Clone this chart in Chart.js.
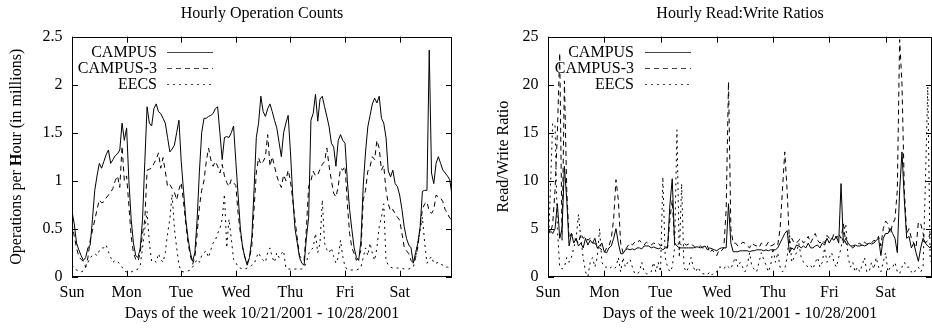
<!DOCTYPE html>
<html>
<head>
<meta charset="utf-8">
<script src="https://cdn.jsdelivr.net/npm/chart.js@4.4.1/dist/chart.umd.min.js"></script>
<style>
html, body { margin: 0; padding: 0; background: #fff; }
#wrap { position: relative; width: 932px; height: 330px; overflow: hidden; }
canvas { position: absolute; top: 0; }
#opsChart { left: 0; }
#rwChart { left: 466px; }
</style>
</head>
<body>
<div id="wrap">
  <canvas id="opsChart" width="466" height="330"></canvas>
  <canvas id="rwChart" width="466" height="330"></canvas>
</div>
<script>
// one value per hour, Sun 00:00 .. Sat 23:00 (one row per day)
const days = ['Sun', 'Mon', 'Tue', 'Wed', 'Thu', 'Fri', 'Sat'];
const seriesNames = ['CAMPUS', 'CAMPUS-3', 'EECS'];

// Hourly Operation Counts (millions)
const opsCampus = [
  0.68,0.55,0.35,0.28,0.22,0.17,0.2,0.3,0.33,0.6,0.9,1.05,1.18,1.13,1.2,1.27,1.32,1.18,1.22,1.26,1.28,1.32,1.6,1.42,
  1.55,1.0,0.6,0.35,0.22,0.2,0.3,0.6,1.2,1.77,1.6,1.57,1.75,1.8,1.72,1.7,1.65,1.6,1.45,1.3,1.33,1.37,1.5,1.63,
  1.2,0.9,0.6,0.4,0.25,0.16,0.25,0.6,1.1,1.5,1.65,1.65,1.67,1.68,1.7,1.75,1.77,1.5,1.22,1.45,1.46,1.45,1.5,1.57,
  1.2,0.85,0.5,0.3,0.2,0.12,0.2,0.4,0.9,1.45,1.6,1.88,1.72,1.67,1.75,1.8,1.72,1.63,1.55,1.4,1.25,1.5,1.6,1.68,
  1.3,0.85,0.5,0.35,0.2,0.14,0.12,0.4,0.62,1.63,1.7,1.9,1.62,1.85,1.88,1.77,1.67,1.56,1.39,1.35,1.15,1.42,1.48,1.42,
  1.39,1.0,0.7,0.49,0.3,0.2,0.17,0.38,0.95,1.3,1.56,1.68,1.8,1.86,1.81,1.88,1.65,1.6,1.45,1.1,1.04,1.11,0.97,0.94,
  0.85,0.7,0.52,0.4,0.33,0.3,0.14,0.25,0.35,0.52,0.89,0.9,0.9,2.36,1.08,0.97,1.18,1.25,1.18,1.11,1.08,1.05,1.01,0.85
];
const opsCampus3 = [
  0.56,0.42,0.3,0.21,0.18,0.16,0.1,0.2,0.38,0.48,0.59,0.7,0.8,0.77,0.78,0.82,0.85,0.88,0.92,1.0,1.05,0.93,1.36,1.0,
  1.05,0.74,0.42,0.25,0.18,0.16,0.25,0.45,0.59,1.11,1.12,1.13,1.18,1.22,1.29,1.13,1.24,1.1,0.94,0.96,0.92,0.88,0.8,0.91,
  0.98,0.78,0.55,0.35,0.22,0.13,0.2,0.45,0.73,0.9,1.0,1.2,1.34,1.22,1.15,1.2,1.15,1.08,1.17,1.05,0.98,0.94,1.01,0.98,
  0.95,0.66,0.45,0.31,0.2,0.14,0.2,0.31,0.7,1.08,1.24,1.17,1.2,1.25,1.48,1.15,1.25,1.15,1.05,0.98,0.93,1.06,1.0,1.11,
  1.0,0.8,0.59,0.4,0.22,0.18,0.17,0.5,0.94,1.0,1.1,1.05,1.06,1.12,1.17,1.2,1.34,1.15,1.0,0.87,0.83,0.94,1.13,1.11,
  1.15,0.76,0.45,0.3,0.24,0.17,0.2,0.28,0.8,0.9,1.1,1.15,1.25,1.22,1.42,1.34,1.11,1.16,0.9,0.76,0.68,0.7,0.66,0.62,
  0.59,0.45,0.31,0.27,0.24,0.17,0.14,0.2,0.31,0.52,0.7,0.76,0.78,0.68,0.66,0.7,0.85,0.83,0.82,0.78,0.7,0.66,0.61,0.59
];
const opsEecs = [
  0.12,0.08,0.07,0.06,0.05,0.06,0.1,0.15,0.2,0.22,0.24,0.22,0.27,0.3,0.3,0.33,0.26,0.2,0.15,0.17,0.16,0.13,0.1,0.06,
  0.05,0.05,0.05,0.06,0.07,0.08,0.12,0.3,0.5,0.68,0.35,0.16,0.17,0.15,0.24,0.18,0.15,0.25,0.45,0.6,0.86,0.5,0.3,0.12,
  0.06,0.05,0.05,0.06,0.07,0.1,0.14,0.18,0.15,0.22,0.25,0.27,0.2,0.28,0.35,0.38,0.45,0.5,0.6,0.86,0.3,0.6,0.4,0.18,
  0.15,0.1,0.09,0.08,0.08,0.09,0.1,0.12,0.13,0.2,0.25,0.2,0.17,0.15,0.25,0.3,0.2,0.15,0.25,0.2,0.24,0.27,0.09,0.08,
  0.08,0.08,0.08,0.08,0.08,0.08,0.1,0.15,0.24,0.28,0.3,0.45,0.25,0.35,0.8,0.35,0.28,0.25,0.3,0.21,0.14,0.2,0.38,0.21,
  0.1,0.08,0.07,0.07,0.07,0.07,0.08,0.1,0.2,0.3,0.22,0.35,0.24,0.17,0.3,0.52,0.62,0.76,0.17,0.12,0.1,0.09,0.09,0.09,
  0.09,0.09,0.08,0.08,0.08,0.09,0.1,0.2,0.35,0.49,0.62,0.35,0.14,0.18,0.21,0.14,0.14,0.15,0.13,0.12,0.1,0.1,0.09,0.09
];

// Hourly Read:Write Ratios
const rwCampus = [
  5,4.8,4.5,5,7.6,4,5,11.5,8,3.2,4.5,3.5,4,3.2,3.5,3,4,3.3,3.8,3.5,4,3,3.2,3.5,
  2.6,2.5,3,3.2,4,5,3.5,2.4,2.4,2.8,2.9,2.8,2.9,2.8,3,3,2.9,3.2,3.2,3.2,3,3.1,3,2.9,
  3,2.8,3,3,7.5,10.2,3.5,3.2,3,3,3,3,3,3,3,3.1,3.1,3,3.1,3.2,2.8,3,2.9,2.8,
  2.7,2.9,3,3,3,7.6,3.5,2.6,2.6,2.6,2.7,2.7,2.7,2.7,2.6,2.7,2.7,2.8,2.8,2.8,2.7,2.8,2.7,2.8,
  2.8,2.8,3,3.5,4,4.5,4.8,2.5,3,2.8,3.3,3.2,3,3.2,3,3.5,3,3,3.2,3.3,3,3.5,3.3,4,
  3.5,4,3.8,4.2,3.5,9.7,3.5,4,3.5,3.2,3.2,3.3,3.2,3.2,3.3,3.2,3.3,3.5,3.4,3.5,3.8,4,2.2,4,
  4.5,4.5,5,4.5,4,2.5,9,13,8,4,4.2,3,3.5,2.5,1.6,3,4,3.5,3.2,3,3.5,3.3,3.5,3.6
];
const rwCampus3 = [
  5,4.5,5.5,9,15,23.3,3.8,20.4,9,4,4.5,4,3.8,3.5,4.5,4,4.2,3.8,4,3.5,3.5,3,3,2.8,
  2.5,3,3.2,4,6,10.1,8,3.5,2.5,2.8,3.2,3.5,3.3,3.6,3.5,3.8,3.5,3.3,3.6,3.4,3.3,3.5,3.4,3.5,
  3.2,3.3,3.2,3,6,8,3.5,3.2,3.5,3.3,3.5,3.3,3.4,3.5,3.2,3,3.1,3.2,3,3,3.2,2.5,2.8,2.5,
  2.2,2.8,2.7,3,7,20.3,5,3.5,3.5,3.2,3.3,3.6,3.5,3.2,3,3.5,3.3,3.2,3,3.5,3.3,3.2,3.6,3.2,
  3.3,3.5,3.3,5,9,13,9,3.5,4,3.5,3.5,3.8,4,3.5,3.8,4.2,3.5,4,4.5,3.8,3.5,3.8,3.5,4.3,
  4,3.8,4.5,4,4.5,4,5.5,3.5,3.2,3.2,3,3.2,3.4,3.5,3.2,3.6,3.4,3.5,3.5,3.8,3.7,4.2,3.2,5,
  5.8,5.5,4.5,5.5,6,9,24.7,20,9,4.5,5,4,3.5,3,5.7,5.5,4.5,3.5,3.8,4.5,4,4.2,4,4.5
];
const rwEecs = [
  2,9,16,15.8,5,1,0.8,1,2,1.5,2,3,4,6.5,4,2,0.5,0,1.5,2,1,2,5,1.5,
  1,1,0.8,1,0.8,1,2,0.5,2,1,1.5,1.8,1,0.3,0.3,0.5,1.5,0.5,0.3,0.3,0.5,1.5,0.5,1.5,
  0.5,10.4,2,1,0.5,1,3,15.3,2,9.7,1,0.5,1,2,1,0.5,1,0.5,0.3,0.3,0.2,0.5,0.2,0.5,
  0.5,1,1,0.8,1.2,1,0.8,1.5,2,1,1.5,1,0.5,1.2,2.5,1,0.8,0.5,1.5,2.5,1.8,1.2,0.5,1.2,
  3,1.5,2.5,1,0.5,0.8,2,4.5,1.5,2,2.5,3.5,2,1.5,1.2,1,1.2,0.8,1.5,2,1,1.5,3,1.5,
  2,2.5,1.5,1,2,3,4.5,5.5,2,1,1.5,0.5,1,0.5,1.2,2,0.5,0.5,1.5,0.8,2,1,0.5,1.5,
  2.5,0.5,1,1,1.5,0.5,0.3,1,1.5,1,1,0.5,0.3,0.8,1,0.5,1,10,19.8,2,1,1.5,1,1
];

const FONT = '"Liberation Serif", "DejaVu Serif", serif';
const FSIZE = 16;
const TICK = 6;
const dashes = [[], [5, 4], [2, 4]];

Chart.defaults.font.family = FONT;
Chart.defaults.font.size = FSIZE;
Chart.defaults.color = '#000';

const pts = vals => vals.map((v, h) => ({ x: h, y: v }));

function makeSets(list) {
  return list.map((vals, i) => ({
    label: seriesNames[i],
    data: pts(vals),
    borderColor: '#000',
    borderWidth: 1,
    borderDash: dashes[i],
    pointRadius: 0,
    tension: 0,
    fill: false
  }));
}

// gnuplot-like frame with inward ticks on all four sides
const gnuFrame = {
  id: 'gnuFrame',
  afterDatasetsDraw(chart) {
    const { ctx, chartArea: a, scales: { x, y } } = chart;
    ctx.save();
    ctx.strokeStyle = '#000';
    ctx.lineWidth = 1;
    ctx.setLineDash([]);
    ctx.beginPath();
    x.ticks.forEach(t => {
      const px = Math.round(x.getPixelForValue(t.value)) + 0.5;
      ctx.moveTo(px, a.bottom); ctx.lineTo(px, a.bottom - TICK);
      ctx.moveTo(px, a.top); ctx.lineTo(px, a.top + TICK);
    });
    y.ticks.forEach(t => {
      const py = Math.round(y.getPixelForValue(t.value)) + 0.5;
      ctx.moveTo(a.left, py); ctx.lineTo(a.left + TICK, py);
      ctx.moveTo(a.right, py); ctx.lineTo(a.right - TICK, py);
    });
    ctx.stroke();
    const l = Math.round(a.left) + 0.5, t = Math.round(a.top) + 0.5;
    const r = Math.round(a.right) - 0.5, b = Math.round(a.bottom) - 0.5;
    ctx.strokeRect(l, t, r - l, b - t);
    ctx.restore();
  }
};

// key inside the plot, label right-aligned then a line sample
const keyBox = {
  id: 'keyBox',
  beforeDatasetsDraw(chart, args, opts) {
    const { ctx, chartArea: a } = chart;
    ctx.save();
    ctx.font = FSIZE + 'px ' + FONT;
    ctx.textAlign = 'right';
    ctx.textBaseline = 'middle';
    chart.data.datasets.forEach((ds, i) => {
      const yy = Math.round(a.top + 15.5 + i * 16) + 0.5;
      ctx.fillStyle = '#000';
      ctx.fillText(ds.label, a.left + opts.textRight, yy);
      ctx.strokeStyle = '#444';
      ctx.lineWidth = 1;
      ctx.setLineDash(ds.borderDash || []);
      ctx.beginPath();
      ctx.moveTo(a.left + opts.lineFrom, yy);
      ctx.lineTo(a.left + opts.lineTo, yy);
      ctx.stroke();
    });
    ctx.restore();
  }
};

// y title with the bold H
const opsYTitle = {
  id: 'opsYTitle',
  afterDraw(chart) {
    const { ctx, chartArea: a } = chart;
    const parts = [['Operations per ', ''], ['H', 'bold '], ['our (in millions)', '']];
    ctx.save();
    ctx.translate(17, (a.top + a.bottom) / 2);
    ctx.rotate(-Math.PI / 2);
    ctx.textAlign = 'left';
    ctx.textBaseline = 'middle';
    ctx.fillStyle = '#000';
    let total = 0;
    parts.forEach(p => { ctx.font = p[1] + FSIZE + 'px ' + FONT; total += ctx.measureText(p[0]).width; });
    let cx = -total / 2;
    parts.forEach(p => {
      ctx.font = p[1] + FSIZE + 'px ' + FONT;
      ctx.fillText(p[0], cx, 0);
      cx += ctx.measureText(p[0]).width;
    });
    ctx.restore();
  }
};

function baseOptions(cfg) {
  return {
    responsive: false,
    animation: false,
    devicePixelRatio: 1,
    layout: { padding: { left: 0, right: cfg.padRight, top: 0, bottom: 0 } },
    plugins: {
      legend: { display: false },
      tooltip: { enabled: false },
      title: {
        display: true,
        text: cfg.title,
        fullSize: false,
        font: { size: FSIZE, weight: 'normal' },
        padding: { top: 3.7, bottom: 13.8 }
      },
      keyBox: cfg.key
    },
    scales: {
      x: {
        type: 'linear',
        min: 0,
        max: cfg.xMax,
        grid: { display: false, drawTicks: false },
        border: { display: false },
        ticks: {
          stepSize: 24,
          includeBounds: false,
          padding: 6,
          maxRotation: 0,
          autoSkip: false,
          callback: v => days[v / 24] || ''
        },
        title: {
          display: true,
          text: 'Days of the week 10/21/2001 - 10/28/2001',
          padding: { top: 0, bottom: 6.9 }
        },
        afterFit: s => { s.height = 53.3; }
      },
      y: {
        min: 0,
        max: cfg.yMax,
        grid: { display: false, drawTicks: false },
        border: { display: false },
        ticks: { stepSize: cfg.yStep, padding: 9.5, callback: v => String(v) },
        title: cfg.yTitle,
        afterFit: s => { s.width = cfg.yWidth; }
      }
    }
  };
}

new Chart(document.getElementById('opsChart'), {
  type: 'line',
  data: { datasets: makeSets([opsCampus, opsCampus3, opsEecs]) },
  options: baseOptions({
    title: 'Hourly Operation Counts',
    padRight: 14,
    xMax: 167,
    yMax: 2.5,
    yStep: 0.5,
    yWidth: 72,
    yTitle: { display: false },
    key: { textRight: 85, lineFrom: 95, lineTo: 141 }
  }),
  plugins: [keyBox, gnuFrame, opsYTitle]
});

new Chart(document.getElementById('rwChart'), {
  type: 'line',
  data: { datasets: makeSets([rwCampus, rwCampus3, rwEecs]) },
  options: baseOptions({
    title: 'Hourly Read:Write Ratios',
    padRight: 0,
    xMax: 163.8,
    yMax: 25,
    yStep: 5,
    yWidth: 82,
    yTitle: { display: true, text: 'Read/Write Ratio', padding: { top: 27.7, bottom: 0 } },
    key: { textRight: 86, lineFrom: 97, lineTo: 143 }
  }),
  plugins: [keyBox, gnuFrame]
});
</script>
</body>
</html>
